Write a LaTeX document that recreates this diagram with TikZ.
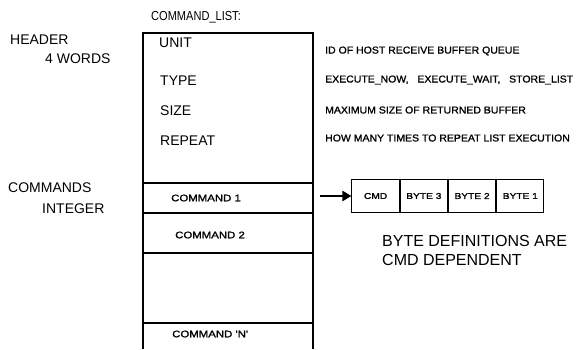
\documentclass[tikz,border=0pt]{standalone}
\usepackage{fontspec}
\setmainfont{Liberation Sans}
\newfontfamily\descfont[FakeStretch=1.05,FakeBold=1.2]{Liberation Sans}
\newfontfamily\cmdfont[FakeStretch=1.2,FakeBold=1.5]{Liberation Sans}
\newfontfamily\titlefont[FakeStretch=0.85]{Liberation Sans}
\usetikzlibrary{arrows.meta}
\begin{document}
\begin{tikzpicture}[x=1pt,y=-1pt,
  lbl/.style={anchor=west,inner sep=0pt,font=\fontsize{14}{15}\selectfont},
  desc/.style={anchor=west,inner sep=0pt,font=\descfont\fontsize{10}{11}\selectfont},
  cmdtxt/.style={anchor=west,inner sep=0pt,font=\cmdfont\fontsize{9.5}{10}\selectfont},
  bytebox/.style={draw,line width=1pt,minimum width=47.25pt,minimum height=33pt,inner sep=0pt,font=\cmdfont\fontsize{8.5}{9}\selectfont},
  frame/.style={line width=1.1pt}]
\useasboundingbox (0,0) rectangle (584,349);
% main list frame
\coordinate (tl) at (143,33);
\coordinate (tr) at (313,33);
\coordinate (bl) at (143,349);
\coordinate (br) at (313,349);
\draw[frame] (bl) -- (tl) -- (tr) -- (br);
\foreach \y in {183,213,253,323}{\draw[frame] (143,\y) -- (313,\y);}
\node[lbl,font=\titlefont\fontsize{13}{14}\selectfont] (title) at (151,17) {COMMAND\_LIST:};
\node[lbl] (header) at (10,40) {HEADER};
\node[lbl] (words) at (45,59) {4 WORDS};
\node[lbl] (unit) at (159,43) {UNIT};
\node[lbl] (type) at (160,81) {TYPE};
\node[lbl] (size) at (160,111) {SIZE};
\node[lbl] (repeat) at (160,141) {REPEAT};
\node[desc] (d1) at (325,51) {ID OF HOST RECEIVE BUFFER QUEUE};
\node[desc] (d2) at (325,80) {EXECUTE\_NOW, \ \ EXECUTE\_WAIT, \ \ STORE\_LIST};
\node[desc] (d3) at (325,110) {MAXIMUM SIZE OF RETURNED BUFFER};
\node[desc] (d4) at (325,138) {HOW MANY TIMES TO REPEAT LIST EXECUTION};
\node[lbl] (cmds) at (8,188) {COMMANDS};
\node[lbl] (integer) at (42,209) {INTEGER};
\node[cmdtxt] (c1) at (171,198) {COMMAND 1};
\node[cmdtxt] (c2) at (175,235) {COMMAND 2};
\node[cmdtxt] (cn) at (172,334) {COMMAND 'N'};
% byte boxes
\node[bytebox] (cmd) at (375.6,196) {CMD};
\node[bytebox,anchor=west] (b3) at (cmd.east) {BYTE 3};
\node[bytebox,anchor=west] (b2) at (b3.east) {BYTE 2};
\node[bytebox,anchor=west] (b1) at (b2.east) {BYTE 1};
\coordinate (arrstart) at (320,196);
\draw[line width=2.8pt,-{Triangle[length=9pt,width=10pt]}] (arrstart) -- (cmd.west);
\node[lbl,font=\fontsize{16}{17}\selectfont] (bd1) at (382,241) {BYTE DEFINITIONS ARE};
\node[lbl,font=\fontsize{16}{17}\selectfont] (bd2) at (382,260) {CMD DEPENDENT};
\end{tikzpicture}
\end{document}
